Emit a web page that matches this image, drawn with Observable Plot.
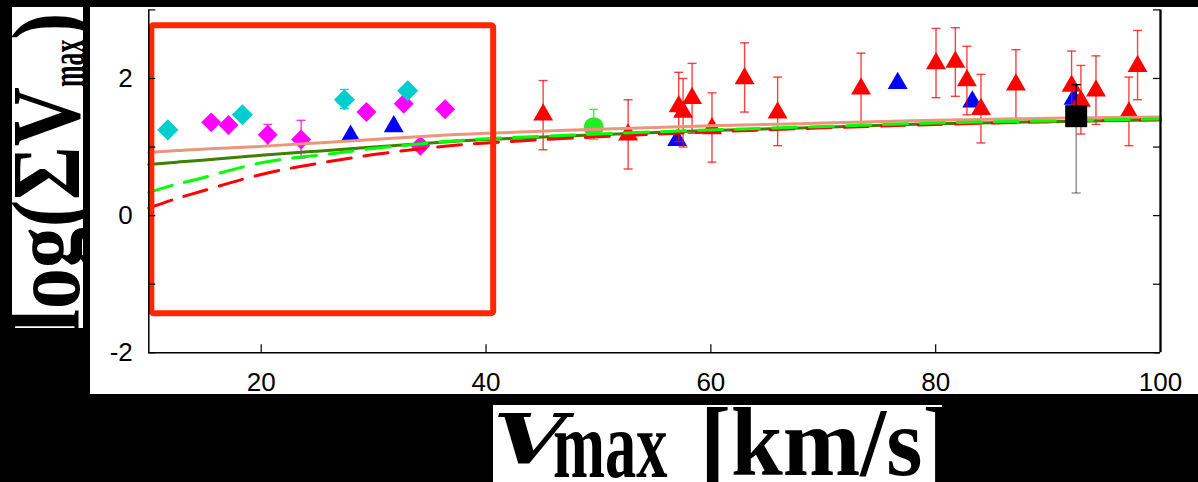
<!DOCTYPE html>
<html>
<head>
<meta charset="utf-8">
<script src="https://cdn.jsdelivr.net/npm/d3@7"></script>
<script src="https://cdn.jsdelivr.net/npm/@observablehq/plot@0.6"></script>
<style>
  html, body { margin: 0; padding: 0; background: #000; width: 1198px; height: 482px; overflow: hidden; }
  #chart { position: absolute; left: 90px; top: 7px; }
  #chart svg { font-family: "Liberation Sans", Arial, sans-serif; }
  .lbl { position: absolute; background: #fff; overflow: hidden; color: #000;
         font-family: "Liberation Serif", "Times New Roman", serif; font-weight: bold; }
  #ylab { left: 12px; top: 7px; width: 71px; height: 321px; }
  #xlab { left: 493px; top: 405px; width: 449px; height: 77px; }
  .part { position: absolute; white-space: nowrap; line-height: 1; transform-origin: 0 0; }
  #ytext { font-size: 82px; left: -12.7px; top: 325px; transform: rotate(-90deg) scale(1, 1.18); }
  #ytext .sub { display: inline-block; font-size: 41px; position: relative; top: 4px;
                transform: scaleX(0.63); transform-origin: 0 0; margin-right: -28px; }
  #xv { font-family: "DejaVu Serif", serif; font-size: 70px; font-style: italic; left: 0px; top: -1px; transform: scaleX(1.35); }
  #xsub { font-size: 96px; left: 60px; top: -8.4px; transform: scaleX(0.65); }
  #xunit { font-size: 98px; left: 207px; top: -12px; transform: scaleX(0.95); }
</style>
</head>
<body>
<div id="ylab" class="lbl"><span id="ytext" class="part">log(ΣV<span class="sub">max</span>)</span></div>
<div id="chart"></div>
<div id="xlab" class="lbl"><span id="xv" class="part">V</span><span id="xsub" class="part">max</span><span id="xunit" class="part">[km/s]</span></div>
<script>
// Axis ticks
const xTicks = [20, 40, 60, 80];
const xTickLabels = [20, 40, 60, 80, 100];
const yTicks = [-2, -1, 0, 1, 2, 3];
const yTickLabels = [-2, 0, 2];

// Highlighted low-velocity region
const boxV = [10.27, 40.68];
const boxLog = [-1.43, 2.77];

// Model curves, sampled along Vmax
const curveV     = [10, 12.5, 15, 20, 25, 30, 35, 40, 50, 60, 70, 80, 90, 100];
const salmonLog  = [0.92, 0.95, 0.97, 1.01, 1.06, 1.11, 1.16, 1.20, 1.26, 1.31, 1.35, 1.39, 1.42, 1.44];
const oliveLog   = [0.745, 0.78, 0.81, 0.88, 0.94, 1.00, 1.06, 1.11, 1.18, 1.24, 1.29, 1.34, 1.37, 1.40];
const greenLog   = [0.34, 0.46, 0.56, 0.77, 0.88, 0.98, 1.06, 1.12, 1.19, 1.25, 1.30, 1.35, 1.38, 1.41];
const redLineLog = [0.11, 0.25, 0.37, 0.60, 0.76, 0.89, 0.99, 1.06, 1.15, 1.22, 1.28, 1.33, 1.37, 1.40];

// Red triangles with error bars
const redV   = [45.08, 52.64, 57.14, 57.53, 58.33, 60.10, 63.00, 65.94, 73.36, 80.03, 81.75, 82.78, 84.03, 87.14, 92.09, 92.92, 94.26, 97.19, 97.96];
const redLog = [1.47, 1.18, 1.59, 1.51, 1.71, 1.27, 2.00, 1.50, 1.85, 2.22, 2.24, 1.97, 1.55, 1.91, 1.89, 1.67, 1.82, 1.50, 2.18];
const redHi  = [1.97, 1.69, 2.09, 2.00, 2.22, 1.79, 2.52, 2.02, 2.37, 2.73, 2.74, 2.47, 2.06, 2.42, 2.40, 2.19, 2.33, 2.02, 2.70];
const redLo  = [0.96, 0.68, 1.08, 1.00, 1.20, 0.78, 1.51, 1.02, 1.33, 1.72, 1.74, 1.47, 1.06, 1.40, 1.38, 1.19, 1.33, 1.02, 1.69];

// Blue triangles
const blueV   = [27.95, 31.79, 57.00, 76.62, 83.26, 92.27];
const blueLog = [1.16, 1.30, 1.10, 1.93, 1.66, 1.70];

// Cyan diamonds
const cyanV   = [11.69, 18.33, 27.40, 33.03];
const cyanLog = [1.25, 1.47, 1.69, 1.82];
const cyanLo  = [null, null, 1.56, null];
const cyanHi  = [null, null, 1.84, null];

// Magenta diamonds
const magV   = [15.55, 17.09, 20.58, 23.55, 29.36, 32.68, 34.16, 36.36];
const magLog = [1.36, 1.32, 1.18, 1.11, 1.51, 1.63, 1.02, 1.55];
const magLo  = [null, null, 1.02, 0.84, null, null, null, null];
const magHi  = [null, null, 1.33, 1.39, null, null, null, null];

// Green circle
const circV = [49.58], circLog = [1.29], circLo = [1.11], circHi = [1.55];

// Black square
const sqV = [92.5], sqLog = [1.45], sqLo = [0.33], sqHi = [1.91];

const W = 1108, H = 387;
const mL = 58.3, mR = 38, mT = 2.4, mB = 41.7;
const innerW = W - mL - mR, innerH = H - mT - mB;

// Short horizontal cap for error bars
const cap = { draw(ctx) { ctx.moveTo(-4.5, 0); ctx.lineTo(4.5, 0); } };

function errorBars(v, lo, hi, color, opacity) {
  return [
    Plot.link(v, { x1: v, x2: v, y1: lo, y2: hi, stroke: color, strokeWidth: 1.4, strokeOpacity: opacity }),
    Plot.dot(v, { x: v, y: lo, symbol: cap, stroke: color, strokeWidth: 1.4, strokeOpacity: opacity, fill: "none" }),
    Plot.dot(v, { x: v, y: hi, symbol: cap, stroke: color, strokeWidth: 1.4, strokeOpacity: opacity, fill: "none" })
  ];
}

const chart = Plot.plot({
  width: W,
  height: H,
  marginLeft: mL, marginRight: mR, marginTop: mT, marginBottom: mB,
  x: { domain: [10, 100] },
  y: { domain: [-2, 3] },
  style: { background: "#fff", color: "#000", fontFamily: "'Liberation Sans', Arial, sans-serif", fontSize: "26px" },
  marks: [
    // data points
    Plot.dot(blueV, { x: blueV, y: blueLog, symbol: "triangle", r: 7.4, fill: "#0000ff" }),
    ...errorBars(redV, redLo, redHi, "#ff0000", 0.75),
    Plot.dot(redV, { x: redV, y: redLog, symbol: "triangle", r: 7.4, fill: "#ff0000" }),
    ...errorBars(magV, magLo, magHi, "#ff00ff", 0.8),
    Plot.dot(magV, { x: magV, y: magLog, symbol: "diamond2", r: 9, fill: "#ff00ff" }),
    ...errorBars(cyanV, cyanLo, cyanHi, "#00cccc", 0.9),
    Plot.dot(cyanV, { x: cyanV, y: cyanLog, symbol: "diamond2", r: 9.5, fill: "#00cdcd" }),
    ...errorBars(circV, circLo, circHi, "#33ee33", 0.9),
    Plot.dot(circV, { x: circV, y: circLog, r: 10, fill: "#22ee22" }),

    // model curves
    Plot.line(curveV, { x: curveV, y: salmonLog, stroke: "#e9967a", strokeWidth: 3, curve: "natural" }),
    Plot.line(curveV, { x: curveV, y: oliveLog, stroke: "#408000", strokeWidth: 3, curve: "natural" }),
    Plot.line(curveV, { x: curveV, y: redLineLog, stroke: "#ff0000", strokeWidth: 3, strokeDasharray: "24,13", curve: "natural" }),
    Plot.line(curveV, { x: curveV, y: greenLog, stroke: "#00ff00", strokeWidth: 3, strokeDasharray: "24,13", curve: "natural" }),

    // black square on top of the curves: dark upper bar, grey lower bar
    Plot.link(sqV, { x1: sqV, x2: sqV, y1: sqLog, y2: sqHi, stroke: "#000", strokeWidth: 1.4, strokeOpacity: 0.85 }),
    Plot.dot(sqV, { x: sqV, y: sqHi, symbol: cap, stroke: "#000", strokeWidth: 1.4, fill: "none" }),
    Plot.link(sqV, { x1: sqV, x2: sqV, y1: sqLo, y2: sqLog, stroke: "#000", strokeWidth: 1.4, strokeOpacity: 0.45 }),
    Plot.dot(sqV, { x: sqV, y: sqLo, symbol: cap, stroke: "#000", strokeWidth: 1.4, strokeOpacity: 0.45, fill: "none" }),
    Plot.dot(sqV, { x: sqV, y: sqLog, symbol: "square", r: 12.4, fill: "#000" }),

    // highlighted region
    Plot.rect([0], { x1: [boxV[0]], x2: [boxV[1]], y1: [boxLog[0]], y2: [boxLog[1]],
                     fill: "none", stroke: "#ff2800", strokeWidth: 6, rx: 2 }),

    // axes: left, right and bottom lines with inward ticks
    Plot.ruleX([10], { stroke: "#000", strokeWidth: 1.5 }),
    Plot.ruleX([100], { stroke: "#000", strokeWidth: 2.3 }),
    Plot.ruleY([-2], { stroke: "#000", strokeWidth: 1.5 }),
    Plot.ruleX(xTicks, { stroke: "#000", strokeWidth: 1.2, insetTop: innerH - 8 }),
    Plot.ruleY(yTicks, { stroke: "#000", strokeWidth: 1.2, insetRight: innerW - 7 }),
    Plot.ruleY(yTicks, { stroke: "#000", strokeWidth: 1.2, insetLeft: innerW - 7 }),
    Plot.axisX({ ticks: xTickLabels, tickSize: 0, tickPadding: 20, fontSize: 26, tickFormat: d => String(d), label: null }),
    Plot.axisY({ ticks: yTickLabels, tickSize: 0, tickPadding: 16, fontSize: 26, tickFormat: d => String(d), label: null })
  ]
});
document.getElementById("chart").appendChild(chart);
</script>
</body>
</html>
